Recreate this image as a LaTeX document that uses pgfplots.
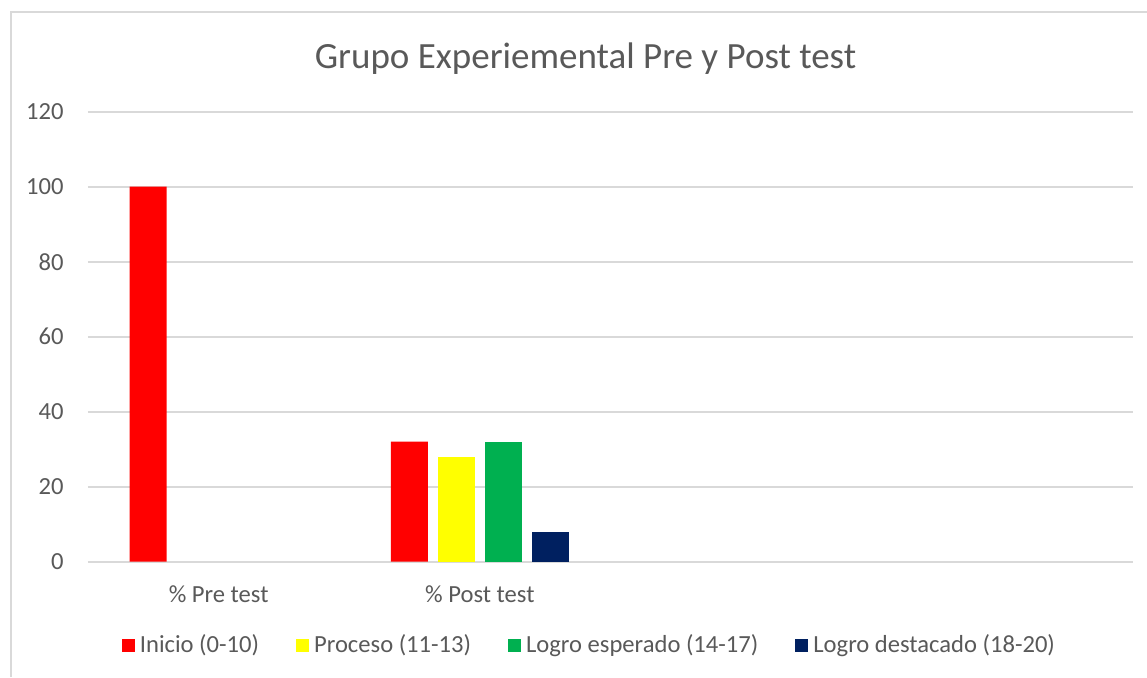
\documentclass[border=0pt]{standalone}
\usepackage{fontspec}
\setmainfont{Carlito}
\usepackage{pgfplots}
\pgfplotsset{compat=1.18}
\definecolor{txtgray}{HTML}{595959}
\definecolor{gridgray}{HTML}{D9D9D9}
\definecolor{inicio}{HTML}{FF0000}
\definecolor{proceso}{HTML}{FFFF00}
\definecolor{esperado}{HTML}{00B050}
\definecolor{destacado}{HTML}{002060}
\begin{document}
\begin{tikzpicture}
  \useasboundingbox (-44pt,-57.65pt) rectangle (529.5pt,280.85pt);
  \begin{axis}[
      scale only axis, width=522.5pt, height=225pt,
      ybar=5pt, bar width=18.5pt,
      xmin=-0.5, xmax=3.5, ymin=0, ymax=120,
      xtick={0,1}, xticklabels={\% Pre test, \% Post test},
      ytick={0,20,...,120},
      axis line style={draw=none},
      major tick style={draw=none},
      ymajorgrids, major grid style={gridgray, line width=0.8pt},
      tick label style={font=\fontsize{12.3}{14}\selectfont, text=txtgray},
      /pgf/number format/assume math mode=true,
      yticklabel style={inner sep=0pt, anchor=east, xshift=-12pt},
      xticklabel style={inner sep=0pt, anchor=north, yshift=-7.5pt},
      legend columns=4,
      legend style={at={(axis description cs:0.4813,-0.1862)}, anchor=center,
        draw=none, fill=none, inner sep=0pt, text=txtgray,
        font=\fontsize{12.3}{14}\selectfont,
        nodes={inner xsep=2.5pt, inner ysep=0pt},
        /tikz/every even column/.append style={column sep=16pt}},
      legend cell align=left,
      legend image code/.code={\fill[#1] (0pt,-3.25pt) rectangle (6.5pt,3.25pt);},
    ]
    \addplot[fill=inicio, draw=none] coordinates {(0,100) (1,32)};
    \addplot[fill=proceso, draw=none] coordinates {(1,28)};
    \addplot[fill=esperado, draw=none] coordinates {(1,32)};
    \addplot[fill=destacado, draw=none] coordinates {(1,8)};
    \legend{Inicio (0-10), Proceso (11-13), Logro esperado (14-17), Logro destacado (18-20)}
  \end{axis}
  \node[anchor=base, inner sep=0pt, text=txtgray, font=\fontsize{18.5}{22}\selectfont]
    at (248.75pt,246.85pt) {Grupo Experiemental Pre y Post test};
  \draw[gridgray, line width=1pt] (-38.5pt,-57.65pt) -- (-38.5pt,274.85pt) -- (529.5pt,274.85pt);
\end{tikzpicture}
\end{document}
